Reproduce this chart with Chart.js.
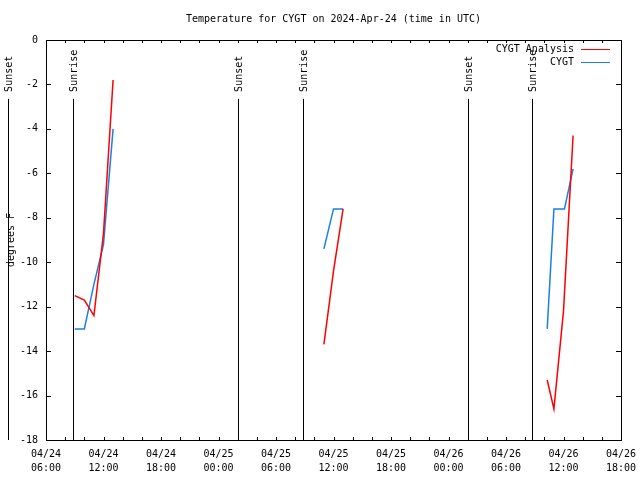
<!DOCTYPE html>
<html>
<head>
<meta charset="utf-8">
<script src="https://cdn.jsdelivr.net/npm/chart.js@4/dist/chart.umd.min.js"></script>
<style>
  html, body { margin: 0; padding: 0; background: #fff; }
  #wrap { width: 640px; height: 480px; }
</style>
</head>
<body>
<div id="wrap"><canvas id="chart"></canvas></div>
<script>
// times are hours since 2024-04-24 00:00 UTC, null temps break the line
const analysisTimes = [9, 10, 11, 12, 13, 24, 35, 36, 37, 48, 58.3, 59, 60, 61];
const analysisTemps = [-11.5, -11.7, -12.4, -8.7, -1.8, null, -13.7, -10.4, -7.6, null, -15.3, -16.6, -12.2, -4.3];
const obsTimes = [9, 10, 11, 12, 13, 24, 35, 36, 37, 48, 58.3, 59, 60.1, 61];
const obsTemps = [-13.0, -13.0, -11.0, -9.2, -4.0, null, -9.4, -7.6, -7.6, null, -13.0, -7.6, -7.6, -5.8];

const sunTimes = [2.0, 8.8, 26.0, 32.8, 50.0, 56.7];
const sunLabels = ["Sunset", "Sunrise", "Sunset", "Sunrise", "Sunset", "Sunrise"];

const tickTimes = [6, 12, 18, 24, 30, 36, 42, 48, 54, 60, 66];
const tickDays = ["04/24", "04/24", "04/24", "04/25", "04/25", "04/25", "04/25", "04/26", "04/26", "04/26", "04/26"];
const tickHours = ["06:00", "12:00", "18:00", "00:00", "06:00", "12:00", "18:00", "00:00", "06:00", "12:00", "18:00"];

const titleText = "Temperature for CYGT on 2024-Apr-24 (time in UTC)";
const FONT = "'DejaVu Sans Mono', 'Liberation Mono', monospace";

function points(xs, ys) {
  const out = [];
  for (let i = 0; i < xs.length; i++) out.push({ x: xs[i], y: ys[i] });
  return out;
}

// gnuplot look: frame, inward ticks, sun lines, legend, title
const gnuplotBits = {
  id: "gnuplotBits",
  beforeDatasetsDraw(chart) {
    const ctx = chart.ctx;
    const a = chart.chartArea;
    const xs = chart.scales.x, ys = chart.scales.y;
    ctx.save();
    ctx.strokeStyle = "#000";
    ctx.lineWidth = 1;
    ctx.strokeRect(Math.round(a.left) + 0.5, Math.round(a.top) + 0.5,
      Math.round(a.right - a.left), Math.round(a.bottom - a.top));
    ctx.beginPath();
    xs.ticks.forEach(t => {
      const px = Math.round(xs.getPixelForValue(t.value)) + 0.5;
      ctx.moveTo(px, a.bottom); ctx.lineTo(px, a.bottom - 3);
      ctx.moveTo(px, a.top); ctx.lineTo(px, a.top + 3);
    });
    ys.ticks.forEach(t => {
      const py = Math.round(ys.getPixelForValue(t.value)) + 0.5;
      ctx.moveTo(a.left, py); ctx.lineTo(a.left + 5, py);
      ctx.moveTo(a.right, py); ctx.lineTo(a.right - 5, py);
    });
    ctx.stroke();

    // sunrise / sunset markers
    const lineTop = ys.getPixelForValue(-2.65);
    ctx.font = "10px " + FONT;
    ctx.fillStyle = "#000";
    ctx.textBaseline = "middle";
    ctx.textAlign = "left";
    sunTimes.forEach((t, i) => {
      const px = Math.round(xs.getPixelForValue(t)) + 0.5;
      ctx.beginPath();
      ctx.moveTo(px, lineTop);
      ctx.lineTo(px, a.bottom);
      ctx.stroke();
      ctx.save();
      ctx.translate(px + 1, lineTop - 7);
      ctx.rotate(-Math.PI / 2);
      ctx.fillText(sunLabels[i], 0, 0);
      ctx.restore();
    });
    ctx.restore();
  },
  afterDraw(chart) {
    const ctx = chart.ctx;
    const a = chart.chartArea;
    ctx.save();
    ctx.font = "10px " + FONT;
    ctx.fillStyle = "#000";
    ctx.textBaseline = "middle";
    ctx.textAlign = "center";
    ctx.fillText(titleText, (a.left + a.right) / 2, 19);
    ctx.textAlign = "right";
    chart.data.datasets.forEach((ds, i) => {
      const y = 49 + i * 13;
      ctx.fillText(ds.label, a.right - 47, y);
      ctx.strokeStyle = ds.borderColor;
      ctx.lineWidth = 1;
      ctx.beginPath();
      ctx.moveTo(a.right - 40, y + 0.5);
      ctx.lineTo(a.right - 11, y + 0.5);
      ctx.stroke();
    });
    ctx.restore();
  }
};

new Chart(document.getElementById("chart"), {
  type: "line",
  data: {
    datasets: [
      {
        label: "CYGT Analysis",
        data: points(analysisTimes, analysisTemps),
        borderColor: "#ff0000",
        borderWidth: 1.5,
        pointRadius: 0,
        tension: 0,
        spanGaps: false
      },
      {
        label: "CYGT",
        data: points(obsTimes, obsTemps),
        borderColor: "#1a80e8",
        borderWidth: 1.5,
        pointRadius: 0,
        tension: 0,
        spanGaps: false
      }
    ]
  },
  options: {
    responsive: true,
    maintainAspectRatio: false,
    animation: false,
    layout: { padding: { top: 40, right: 19, bottom: 0, left: 0 } },
    plugins: {
      legend: { display: false },
      title: { display: false },
      tooltip: { enabled: false }
    },
    scales: {
      x: {
        type: "linear",
        min: 6,
        max: 66,
        grid: { display: false, drawTicks: false },
        border: { display: false },
        afterFit: s => { s.height = 40; s.paddingLeft = 0; s.paddingRight = 0; },
        ticks: {
          stepSize: 2,
          autoSkip: false,
          maxRotation: 0,
          padding: 7,
          color: "#000",
          font: { family: FONT, size: 10, lineHeight: 1.4 },
          callback: v => {
            const i = tickTimes.indexOf(v);
            return i >= 0 ? [tickDays[i], tickHours[i]] : "";
          }
        }
      },
      y: {
        min: -18,
        max: 0,
        grid: { display: false, drawTicks: false },
        border: { display: false },
        afterFit: s => { s.width = 46; },
        title: {
          display: true,
          text: "degrees F",
          color: "#000",
          font: { family: FONT, size: 10 },
          padding: { top: 5, bottom: 0 }
        },
        ticks: {
          stepSize: 2,
          padding: 8,
          color: "#000",
          font: { family: FONT, size: 10 }
        }
      }
    }
  },
  plugins: [gnuplotBits]
});
</script>
</body>
</html>
